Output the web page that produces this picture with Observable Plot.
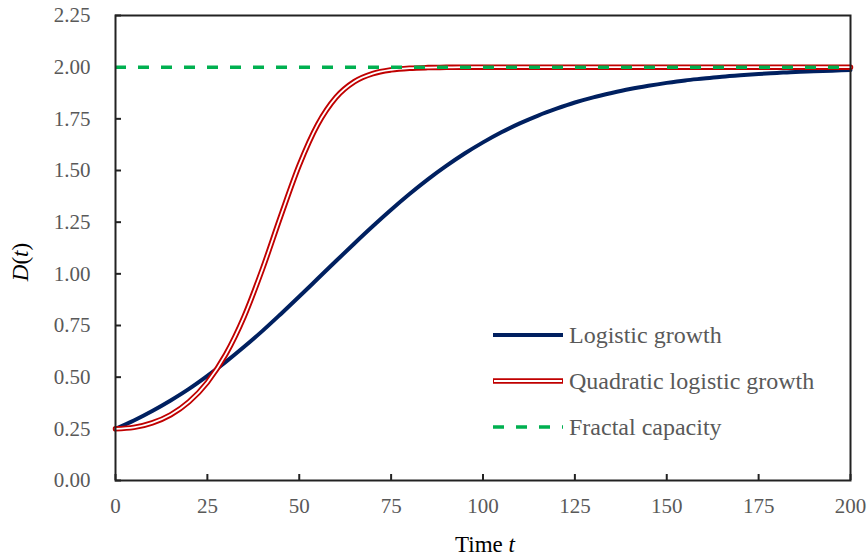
<!DOCTYPE html>
<html>
<head>
<meta charset="utf-8">
<script src="https://cdn.jsdelivr.net/npm/d3@7"></script>
<script src="https://cdn.jsdelivr.net/npm/@observablehq/plot@0.6"></script>
<style>
  html, body { margin: 0; padding: 0; background: white; }
  #chart { width: 868px; height: 558px; }
</style>
</head>
<body>
<div id="chart"></div>
<script>
// ---- data ----
const timeValues = [0,5,10,15,20,25,30,35,40,45,50,55,60,65,70,75,80,85,90,95,100,
  105,110,115,120,125,130,135,140,145,150,155,160,165,170,175,180,185,190,195,200];
const logisticValues = [0.250,0.290,0.336,0.387,0.443,0.506,0.574,0.647,0.724,0.806,0.890,
  0.976,1.062,1.147,1.230,1.310,1.386,1.457,1.522,1.582,1.636,
  1.685,1.728,1.766,1.799,1.829,1.854,1.875,1.894,1.910,1.924,
  1.936,1.945,1.954,1.961,1.967,1.972,1.977,1.980,1.983,1.986];
const quadraticValues = [0.250,0.257,0.279,0.318,0.381,0.475,0.610,0.793,1.024,1.281,1.526,
  1.722,1.854,1.930,1.969,1.987,1.995,1.998,1.999,2.000,2.000,
  2.000,2.000,2.000,2.000,2.000,2.000,2.000,2.000,2.000,2.000,
  2.000,2.000,2.000,2.000,2.000,2.000,2.000,2.000,2.000,2.000];
const capacityValue = [2.0];
const xTicks = [0,25,50,75,100,125,150,175,200];
const yTicks = [0,0.25,0.5,0.75,1,1.25,1.5,1.75,2,2.25];
const legendLabels = ["Logistic growth", "Quadratic logistic growth", "Fractal capacity"];

const logistic = timeValues.map((t, i) => ({t, D: logisticValues[i]}));
const quadratic = timeValues.map((t, i) => ({t, D: quadraticValues[i]}));

const FONT = "Liberation Serif, Times New Roman, serif";
const NAVY = "#002060", RED = "#C00000", GREEN = "#00B050", GRAY = "#595959";

const plot = Plot.plot({
  width: 868,
  height: 558,
  marginLeft: 115,
  marginRight: 18,
  marginTop: 15,
  marginBottom: 78,
  style: {fontFamily: FONT, background: "white", overflow: "visible"},
  x: {domain: [0, 200], label: null},
  y: {domain: [0, 2.25], label: null},
  marks: [
    Plot.axisX(xTicks, {tickSize: 0, tickPadding: 18, fontSize: 21, fontFamily: FONT, fill: GRAY, label: null}),
    Plot.axisY(yTicks, {tickSize: 0, tickPadding: 25, fontSize: 21, fontFamily: FONT, fill: GRAY, label: null,
      tickFormat: d => d.toFixed(2)}),
    Plot.axisX(xTicks, {tickSize: -6, tickFormat: () => "", label: null, stroke: "#222", strokeWidth: 2}),
    Plot.axisY(yTicks, {tickSize: -6, tickFormat: () => "", label: null, stroke: "#222", strokeWidth: 2}),
    Plot.lineY(logistic, {x: "t", y: "D", stroke: NAVY, strokeWidth: 4, curve: "monotone-x"}),
    Plot.lineY(quadratic, {x: "t", y: "D", stroke: RED, strokeWidth: 5.5, curve: "monotone-x"}),
    Plot.lineY(quadratic, {x: "t", y: "D", stroke: "white", strokeWidth: 1.8, curve: "monotone-x"}),
    Plot.ruleY(capacityValue, {stroke: GREEN, strokeWidth: 3.5, strokeDasharray: "11,12"}),
    Plot.frame({stroke: "#222", strokeWidth: 2})
  ]
});

const svg = d3.select(plot);
svg.selectAll("text").attr("font-family", FONT).style("font-family", FONT);

// axis titles
const xt = svg.append("text")
  .attr("x", 485).attr("y", 552)
  .attr("text-anchor", "middle")
  .style("font-family", FONT).attr("font-size", 23).attr("fill", "black");
xt.append("tspan").text("Time ");
xt.append("tspan").attr("font-style", "italic").text("t");

const yt = svg.append("text")
  .attr("transform", "translate(28,262) rotate(-90)")
  .attr("text-anchor", "middle")
  .style("font-family", FONT).attr("font-size", 23).attr("fill", "black");
yt.append("tspan").attr("font-style", "italic").text("D");
yt.append("tspan").text("(");
yt.append("tspan").attr("font-style", "italic").text("t");
yt.append("tspan").text(")");

// legend
const legendRows = [335, 381, 427];
const lg = svg.append("g").attr("text-anchor", "start");
legendLabels.forEach((label, i) => {
  const y = legendRows[i];
  if (i === 0) {
    lg.append("line").attr("x1", 493).attr("x2", 563).attr("y1", y).attr("y2", y)
      .attr("stroke", NAVY).attr("stroke-width", 4);
  } else if (i === 1) {
    lg.append("line").attr("x1", 493).attr("x2", 563).attr("y1", y).attr("y2", y)
      .attr("stroke", RED).attr("stroke-width", 5.5);
    lg.append("line").attr("x1", 494).attr("x2", 562).attr("y1", y).attr("y2", y)
      .attr("stroke", "white").attr("stroke-width", 1.8);
  } else {
    lg.append("line").attr("x1", 493).attr("x2", 563).attr("y1", y).attr("y2", y)
      .attr("stroke", GREEN).attr("stroke-width", 3.5).attr("stroke-dasharray", "11,12");
  }
  lg.append("text").attr("x", 569).attr("y", y).attr("dy", "0.33em")
    .attr("text-anchor", "start")
    .style("font-family", FONT).attr("font-size", 24).attr("fill", GRAY).text(label);
});

document.getElementById("chart").appendChild(plot);
</script>
</body>
</html>
